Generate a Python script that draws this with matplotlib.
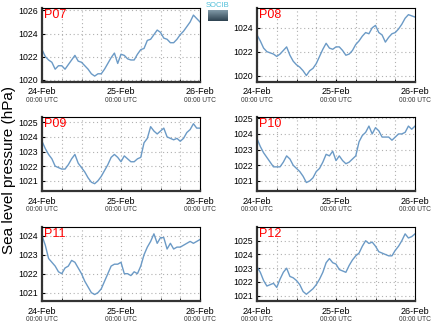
import matplotlib
matplotlib.use("Agg")
import matplotlib.pyplot as plt
import matplotlib.transforms as mtransforms
from matplotlib.colors import LinearSegmentedColormap
import numpy as np

plt.rcParams['font.family'] = ['Liberation Sans', 'DejaVu Sans']

hours = list(range(49))
tick_hours = [0, 24, 48]
tick_dates = ["24-Feb", "25-Feb", "26-Feb"]
tick_times = ["00:00 UTC", "00:00 UTC", "00:00 UTC"]

stations = ["P07", "P08", "P09", "P10", "P11", "P12"]

p07 = [1022.6, 1022.0, 1021.7, 1021.5, 1020.9, 1021.2, 1021.2, 1020.9, 1021.3, 1021.7,
       1022.1, 1021.6, 1021.5, 1021.2, 1020.9, 1020.5, 1020.3, 1020.5, 1020.5, 1020.9,
       1021.4, 1021.9, 1022.3, 1021.4, 1022.2, 1022.1, 1021.8, 1021.7, 1021.7, 1022.2,
       1022.6, 1022.7, 1023.4, 1023.5, 1023.9, 1024.3, 1024.1, 1023.6, 1023.5, 1023.2,
       1023.2, 1023.5, 1023.9, 1024.2, 1024.6, 1025.0, 1025.6, 1025.3, 1025.0]
p08 = [1023.4, 1022.9, 1022.3, 1022.0, 1021.9, 1021.8, 1021.6, 1021.8, 1022.1, 1022.4,
       1021.7, 1021.2, 1020.9, 1020.7, 1020.4, 1020.0, 1020.4, 1020.6, 1021.0, 1021.6,
       1022.2, 1022.7, 1022.3, 1022.2, 1022.4, 1022.4, 1022.1, 1021.7, 1021.8, 1022.1,
       1022.6, 1022.9, 1023.3, 1023.6, 1023.5, 1024.0, 1024.2, 1023.6, 1023.4, 1022.8,
       1023.2, 1023.5, 1023.6, 1023.9, 1024.3, 1024.8, 1025.1, 1025.0, 1024.9]
p09 = [1023.7, 1023.2, 1022.8, 1022.5, 1022.0, 1021.9, 1021.8, 1021.8, 1022.1, 1022.5,
       1022.8, 1022.2, 1021.9, 1021.6, 1021.2, 1020.9, 1020.8, 1021.0, 1021.3, 1021.7,
       1022.1, 1022.6, 1022.8, 1022.6, 1022.3, 1022.7, 1022.5, 1022.3, 1022.3, 1022.5,
       1022.6, 1023.6, 1023.9, 1024.7, 1024.4, 1024.2, 1024.4, 1024.6, 1024.0, 1023.9,
       1023.8, 1023.9, 1023.7, 1023.9, 1024.3, 1024.5, 1024.9, 1024.6, 1024.6]
p10 = [1023.7, 1023.2, 1022.8, 1022.5, 1022.2, 1021.9, 1021.9, 1021.9, 1022.2, 1022.6,
       1022.4, 1022.0, 1021.8, 1021.6, 1021.3, 1020.9, 1021.0, 1021.2, 1021.6, 1021.8,
       1022.2, 1022.7, 1022.6, 1022.9, 1022.3, 1022.6, 1022.3, 1022.1, 1022.2, 1022.4,
       1022.6, 1023.5, 1023.9, 1024.1, 1024.5, 1024.0, 1024.4, 1024.2, 1023.8, 1023.8,
       1023.8, 1023.6, 1023.8, 1024.0, 1024.0, 1024.1, 1024.5, 1024.3, 1024.5]
p11 = [1024.0, 1023.5, 1022.8, 1022.6, 1022.4, 1022.1, 1022.0, 1022.3, 1022.4, 1022.7,
       1022.6, 1022.3, 1022.0, 1021.6, 1021.3, 1021.0, 1020.9, 1021.0, 1021.2, 1021.6,
       1022.0, 1022.4, 1022.5, 1022.5, 1022.6, 1022.0, 1022.0, 1021.9, 1022.1, 1022.0,
       1022.4, 1023.0, 1023.4, 1023.7, 1024.1, 1023.6, 1023.9, 1023.9, 1023.3, 1023.6,
       1023.3, 1023.4, 1023.4, 1023.5, 1023.6, 1023.7, 1023.6, 1023.7, 1023.8]
p12 = [1023.1, 1022.7, 1022.1, 1021.7, 1021.8, 1021.9, 1021.6, 1022.2, 1022.7, 1023.0,
       1022.4, 1022.3, 1022.1, 1021.8, 1021.3, 1021.1, 1021.3, 1021.5, 1021.8, 1022.2,
       1022.7, 1023.4, 1023.7, 1023.4, 1023.3, 1022.9, 1022.8, 1022.7, 1023.2, 1023.6,
       1023.9, 1024.1, 1024.6, 1025.0, 1024.8, 1024.9, 1024.6, 1024.2, 1024.1, 1024.0,
       1023.9, 1023.9, 1024.3, 1024.6, 1025.0, 1025.5, 1025.2, 1025.3, 1025.5]

series = [p07, p08, p09, p10, p11, p12]
yticks = [[1020, 1022, 1024, 1026], [1020, 1022, 1024],
          [1021, 1022, 1023, 1024, 1025], [1021, 1022, 1023, 1024, 1025],
          [1021, 1022, 1023, 1024], [1021, 1022, 1023, 1024, 1025]]
ylims = [(1019.83, 1026.26), (1019.5, 1025.7), (1020.3, 1025.36),
         (1020.36, 1025.08), (1020.56, 1024.46), (1020.61, 1026.0)]

W, H = 434, 327
fig = plt.figure(figsize=(W / 100, H / 100), dpi=100)

col_x = [42, 257]
row_top = [7.5, 117, 227]
pw, ph = 158, 74

for i, (name, vals) in enumerate(zip(stations, series)):
    r, c = divmod(i, 2)
    x0 = col_x[c] / W
    y0 = (H - row_top[r] - ph) / H
    ax = fig.add_axes([x0, y0, pw / W, ph / H])
    ax.plot(hours, vals, color='#6b9ac6', lw=1.0)
    ax.set_xlim(0, 48)
    ax.set_ylim(*ylims[i])
    ax.set_yticks(yticks[i])
    ax.set_yticklabels([str(v) for v in yticks[i]], fontsize=6.3)
    ax.set_xticks(tick_hours)
    ax.set_xticklabels(tick_dates, fontsize=6.5)
    ax.set_xticks(range(0, 49, 6), minor=True)
    ax.grid(True, which='both', axis='x', color='#b0b0b0', ls=(0, (1, 2.5)), lw=0.8)
    ax.grid(True, which='major', axis='y', color='#b0b0b0', ls=(0, (1, 2.5)), lw=0.8)
    ax.tick_params(axis='both', which='both', length=2, direction='in', pad=3)
    ax.tick_params(axis='x', which='major', pad=4)
    for s in ['left', 'bottom']:
        ax.spines[s].set_linewidth(1.6)
        ax.spines[s].set_color('#333333')
    for s in ['top', 'right']:
        ax.spines[s].set_linewidth(0.8)
        ax.spines[s].set_color('black')
    ax.text(0.015, 0.985, name, transform=ax.transAxes, color='red',
            fontsize=9, va='top', ha='left')
    trans = mtransforms.blended_transform_factory(ax.transData, ax.transAxes)
    for th, tt in zip(tick_hours, tick_times):
        ax.text(th, -0.25, tt, transform=trans, fontsize=4.8, color='#333333',
                ha='center', va='center')

fig.text(9 / W, 1 - 170 / H, "Sea level pressure (hPa)", rotation=90,
         fontsize=11, ha='center', va='center')

# logo
fig.text(218 / W, 1 - 5.5 / H, "SOCIB", color='#4fbfd9', fontsize=5.5,
         ha='center', va='center')
lax = fig.add_axes([208 / W, 1 - 21 / H, 20 / W, 11 / H])
cmap = LinearSegmentedColormap.from_list('lg', ['#7f98a6', '#2f4452'])
lax.imshow(np.linspace(0, 1, 20).reshape(-1, 1), aspect='auto', cmap=cmap)
lax.axis('off')

fig.savefig("out.png", dpi=100)
